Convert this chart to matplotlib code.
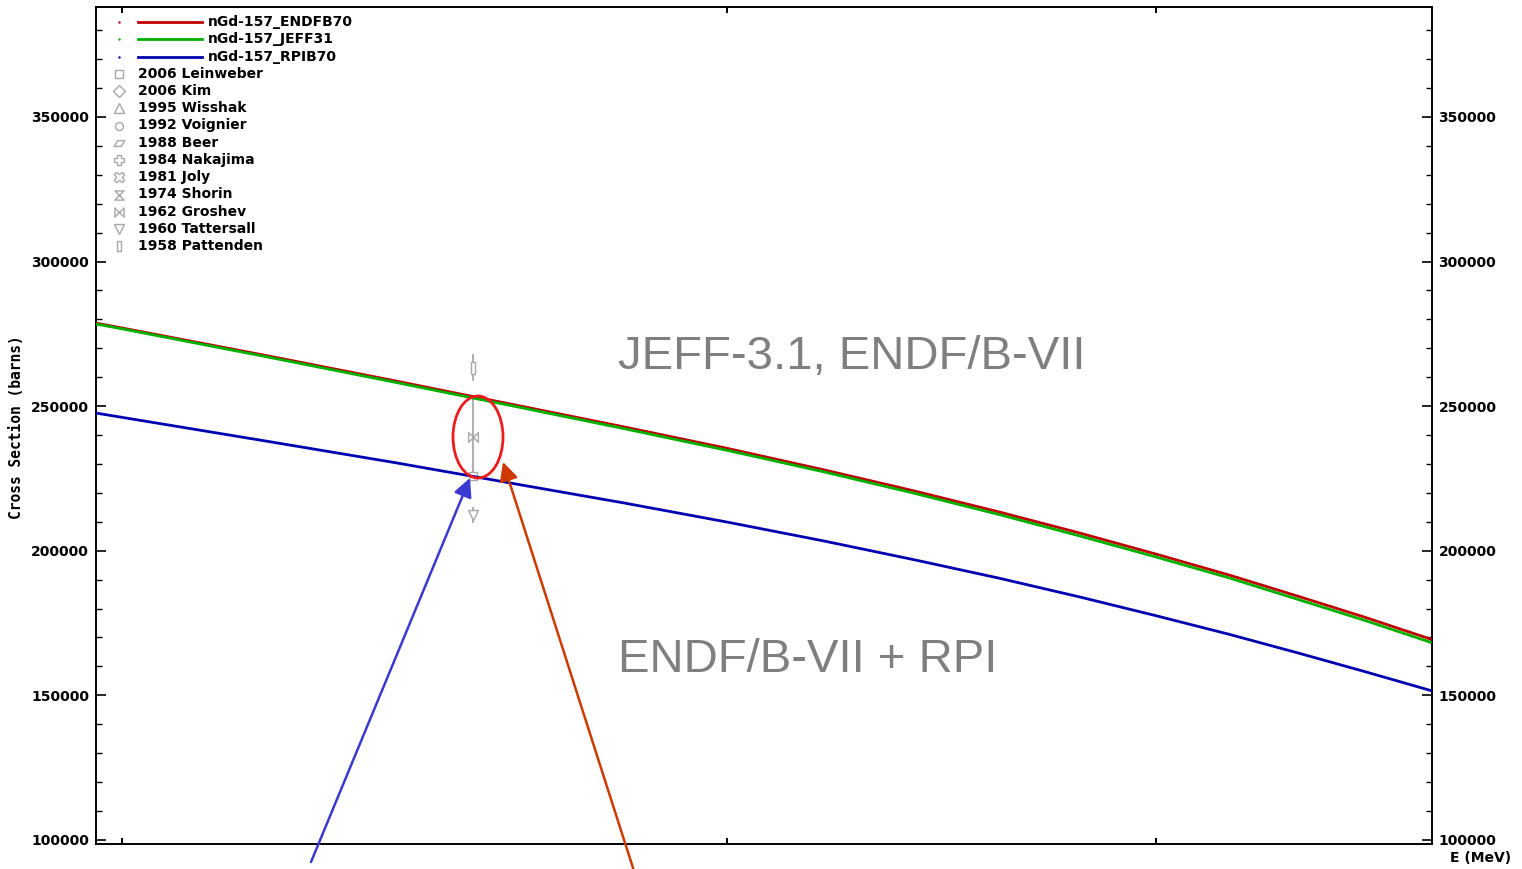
import matplotlib
matplotlib.use("Agg")
import matplotlib.pyplot as plt
from matplotlib.path import Path
from matplotlib.patches import Ellipse
from matplotlib.ticker import FixedLocator, MultipleLocator, NullLocator, NullFormatter

# ---------------- data ----------------
energy_mev = [1.965e-8, 2.0e-8, 2.2e-8, 2.4e-8, 2.53e-8, 2.6e-8, 2.8e-8, 3.0e-8, 3.2e-8,
              3.4e-8, 3.6e-8, 3.8e-8, 4.0e-8, 4.2e-8, 4.4e-8, 4.6e-8, 4.8e-8, 4.81e-8]
xs_endfb70 = [278700, 277000, 267600, 258800, 253300, 250500, 242800, 235400, 228000,
              220700, 213400, 206100, 198800, 191600, 184200, 177000, 169700, 169300]
xs_jeff31 = [278400, 276700, 267200, 258300, 252800, 250000, 242200, 234700, 227300,
             219900, 212500, 205100, 197800, 190600, 183100, 175900, 168600, 168200]
xs_rpib70 = [247600, 246100, 238000, 230500, 225700, 223200, 216500, 209900, 203400,
             196900, 190500, 184000, 177500, 171100, 164600, 158200, 151900, 151600]

eval_labels = ["nGd-157_ENDFB70", "nGd-157_JEFF31", "nGd-157_RPIB70"]
eval_colors = ["#c00000", "#00b000", "#0000b0"]

exp_labels = ["2006 Leinweber", "2006 Kim", "1995 Wisshak", "1992 Voignier", "1988 Beer",
              "1984 Nakajima", "1981 Joly", "1974 Shorin", "1962 Groshev",
              "1960 Tattersall", "1958 Pattenden"]

# experimental points at thermal energy (E, sigma, error)
exp_points_label = ["2006 Leinweber", "1962 Groshev", "1960 Tattersall", "1958 Pattenden"]
exp_points_e = [2.53e-8, 2.53e-8, 2.53e-8, 2.53e-8]
exp_points_xs = [226000, 239400, 212400, 263300]
exp_points_err = [0, 13500, 2500, 4300]

yticks = [100000, 150000, 200000, 250000, 300000, 350000]
xticks = [2e-8, 3e-8, 4e-8]

# ---------------- markers ----------------
def mk(verts):
    codes = [Path.MOVETO] + [Path.LINETO] * (len(verts) - 1) + [Path.CLOSEPOLY]
    return Path(verts + [verts[0]], codes)

m_beer = mk([(-1, -0.55), (0.35, -0.55), (1, 0.55), (-0.35, 0.55)])
m_shorin = mk([(-1, 1), (1, 1), (-1, -1), (1, -1)])
m_groshev = mk([(-1, 1), (-1, -1), (1, 1), (1, -1)])
m_patt = mk([(-0.35, -1), (0.35, -1), (0.35, 1), (-0.35, 1)])

exp_markers = {"2006 Leinweber": "s", "2006 Kim": "D", "1995 Wisshak": "^",
               "1992 Voignier": "o", "1988 Beer": m_beer, "1984 Nakajima": "P",
               "1981 Joly": "X", "1974 Shorin": m_shorin, "1962 Groshev": m_groshev,
               "1960 Tattersall": "v", "1958 Pattenden": m_patt}
exp_sizes = {"2006 Leinweber": 6, "2006 Kim": 6, "1995 Wisshak": 7, "1992 Voignier": 6,
             "1988 Beer": 8, "1984 Nakajima": 8, "1981 Joly": 8, "1974 Shorin": 7,
             "1962 Groshev": 7, "1960 Tattersall": 7, "1958 Pattenden": 8}
GRAY = "#a8a8a8"

# ---------------- figure ----------------
W, H = 1522, 869
fig = plt.figure(figsize=(W / 100, H / 100), dpi=100)
L, R, T, B = 96, 1431.5, 7, 844
ax = fig.add_axes([L / W, (H - B) / H, (R - L) / W, (B - T) / H])

def axfrac(px, py):
    return (px - L) / (R - L), (B - py) / (B - T)

ax.set_xscale("log")
ax.set_xlim(1.965e-8, 4.81e-8)
ax.set_ylim(98600, 388000)

for x, lab, c in zip([xs_endfb70, xs_jeff31, xs_rpib70], eval_labels, eval_colors):
    ax.plot(energy_mev, x, color=c, lw=2.0, zorder=3, solid_capstyle="butt")

for lab, e, v, err in zip(exp_points_label, exp_points_e, exp_points_xs, exp_points_err):
    if err > 0:
        ax.plot([e, e], [v - err, v + err], color=GRAY, lw=1.3, zorder=2)
    ax.plot([e], [v], linestyle="none", marker=exp_markers[lab], markersize=exp_sizes[lab],
            markerfacecolor="white", markeredgecolor=GRAY, markeredgewidth=1.0, zorder=2.5)

# axes styling
for s in ax.spines.values():
    s.set_linewidth(1.4)
ax.xaxis.set_major_locator(FixedLocator(xticks))
ax.xaxis.set_minor_locator(NullLocator())
ax.xaxis.set_major_formatter(NullFormatter())
ax.xaxis.set_minor_formatter(NullFormatter())
ax.tick_params(axis="x", which="major", direction="in", length=4, width=1.4,
               top=True, bottom=True)
ax.set_yticks(yticks)
ax.set_yticklabels([str(v) for v in yticks])
ax.yaxis.set_minor_locator(MultipleLocator(10000))
ax.tick_params(axis="y", which="major", direction="in", length=7, width=1.2,
               left=True, right=True, labelleft=True, labelright=True, pad=5)
ax.tick_params(axis="y", which="minor", direction="in", length=4, width=1.0,
               left=True, right=True)
for lbl in ax.get_yticklabels():
    lbl.set_fontfamily("DejaVu Sans")
    lbl.set_fontweight("bold")
    lbl.set_fontsize(10)

fig.text(17 / W, 1 - 427 / H, "Cross Section (barns)", rotation=90, ha="center", va="center",
         fontsize=10.5, fontweight="bold", family="DejaVu Sans Mono")
fig.text(1481 / W, 1 - 858 / H, "E (MeV)", ha="center", va="center",
         fontsize=10, fontweight="bold", family="DejaVu Sans")

# ---------------- legend (manual) ----------------
row0, dy = 22, 17.25
for i, (lab, c) in enumerate(zip(eval_labels, eval_colors)):
    py = row0 + dy * i
    x0, y0 = axfrac(119, py)
    ax.plot([x0], [y0], marker=".", markersize=1.5, color=c, transform=ax.transAxes)
    xa, _ = axfrac(138, py)
    xb, _ = axfrac(202, py)
    ax.plot([xa, xb], [y0, y0], color=c, lw=2.0, transform=ax.transAxes)
    xt, _ = axfrac(208, py)
    ax.text(xt, y0, lab, transform=ax.transAxes, ha="left", va="center",
            fontsize=10, fontweight="bold", family="DejaVu Sans")
for j, lab in enumerate(exp_labels):
    py = row0 + dy * (j + 3)
    x0, y0 = axfrac(119, py)
    ax.plot([x0], [y0], linestyle="none", marker=exp_markers[lab],
            markersize=exp_sizes[lab] * 0.95, markerfacecolor="white",
            markeredgecolor=GRAY, markeredgewidth=1.0, transform=ax.transAxes)
    xt, _ = axfrac(138, py)
    ax.text(xt, y0, lab, transform=ax.transAxes, ha="left", va="center",
            fontsize=10, fontweight="bold", family="DejaVu Sans")

# ---------------- annotations ----------------
tx, ty = axfrac(618, 357)
ax.text(tx, ty, "JEFF-3.1, ENDF/B-VII", transform=ax.transAxes, ha="left", va="center",
        fontsize=34, color="#7f7f7f", family="Liberation Sans")
tx, ty = axfrac(618, 660)
ax.text(tx, ty, "ENDF/B-VII + RPI", transform=ax.transAxes, ha="left", va="center",
        fontsize=34, color="#7f7f7f", family="Liberation Sans")

cx, cy = axfrac(478, 437)
ax.add_patch(Ellipse((cx, cy), 50 / (R - L), 82 / (B - T), transform=ax.transAxes,
                     fill=False, edgecolor="#ee1c1c", lw=2.0, zorder=5))

ax.annotate("", xy=(470, H - 478), xytext=(311, H - 862),
            xycoords="figure pixels", textcoords="figure pixels", annotation_clip=False,
            arrowprops=dict(arrowstyle="-|>", mutation_scale=28, lw=1.8,
                            color="#3a3ad0", shrinkA=0, shrinkB=0), zorder=6)
ax.annotate("", xy=(503, H - 462), xytext=(634, H - 871),
            xycoords="figure pixels", textcoords="figure pixels", annotation_clip=False,
            arrowprops=dict(arrowstyle="-|>", mutation_scale=28, lw=1.8,
                            color="#cc3a00", shrinkA=0, shrinkB=0), zorder=6)

fig.savefig("out.png", dpi=100)
